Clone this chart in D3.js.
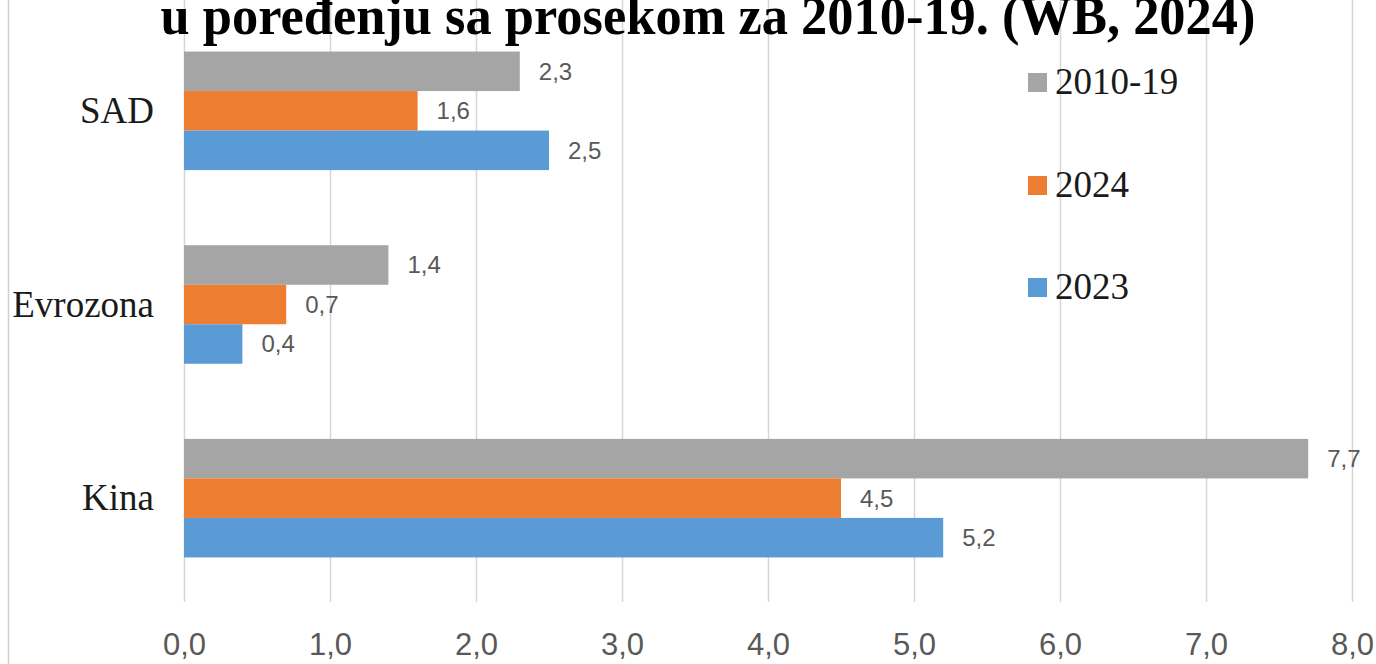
<!DOCTYPE html>
<html>
<head>
<meta charset="utf-8">
<script src="https://cdn.jsdelivr.net/npm/d3@7"></script>
<style>
  html, body { margin: 0; padding: 0; background: #fff; }
  svg { display: block; }
</style>
</head>
<body>
<div id="chart"></div>
<script>
// podaci
const categories = ['SAD', 'Evrozona', 'Kina'];
const seriesNames = ['2010-19', '2024', '2023'];
const values2010_19 = [2.3, 1.4, 7.7];
const values2024 = [1.6, 0.7, 4.5];
const values2023 = [2.5, 0.4, 5.2];
const xTicks = [0, 1, 2, 3, 4, 5, 6, 7, 8];
const title = 'u poređenju sa prosekom za 2010-19. (WB, 2024)';

const seriesValues = [values2010_19, values2024, values2023];
const colors = ['#a5a5a5', '#ed7d31', '#5b9bd5'];

const W = 1376, H = 664;
const svg = d3.select('#chart').append('svg')
    .attr('width', W)
    .attr('height', H);

// skale
const x = d3.scaleLinear().domain([0, 8]).range([184, 1352]);
const y0 = d3.scaleBand().domain(categories).range([14, 595])
    .paddingInner(0.388).paddingOuter(0.194);
const y1 = d3.scaleBand().domain(seriesNames).range([0, y0.bandwidth()]);

// okvir levo
svg.append('line')
    .attr('x1', 8.5).attr('x2', 8.5)
    .attr('y1', 0).attr('y2', H)
    .attr('stroke', '#d0d0d0').attr('stroke-width', 1.5);

// mreža
svg.selectAll('.grid')
    .data(xTicks)
    .enter()
    .append('line')
    .attr('class', 'grid')
    .attr('x1', d => Math.round(x(d)) + 0.5)
    .attr('x2', d => Math.round(x(d)) + 0.5)
    .attr('y1', 0)
    .attr('y2', 602)
    .attr('stroke', '#d6d6d6')
    .attr('stroke-width', 1.5);

// stubići
const rows = [];
categories.forEach((c, i) => {
    seriesNames.forEach((s, j) => {
        rows.push({ cat: c, series: s, value: seriesValues[j][i], color: colors[j] });
    });
});

svg.selectAll('.bar')
    .data(rows)
    .enter()
    .append('rect')
    .attr('class', 'bar')
    .attr('x', x(0))
    .attr('y', d => y0(d.cat) + y1(d.series))
    .attr('width', d => x(d.value) - x(0))
    .attr('height', y1.bandwidth())
    .attr('fill', d => d.color);

// vrednosti
svg.selectAll('.val')
    .data(rows)
    .enter()
    .append('text')
    .attr('class', 'val')
    .attr('x', d => x(d.value) + 19)
    .attr('y', d => y0(d.cat) + y1(d.series) + y1.bandwidth() / 2)
    .attr('dy', '0.35em')
    .attr('fill', '#595959')
    .style('font-family', '"Liberation Sans", sans-serif')
    .style('font-size', '24px')
    .text(d => d.value.toFixed(1).replace('.', ','));

// kategorije
svg.selectAll('.cat')
    .data(categories)
    .enter()
    .append('text')
    .attr('class', 'cat')
    .attr('x', 154)
    .attr('y', d => y0(d) + y0.bandwidth() / 2)
    .attr('dy', '0.33em')
    .attr('text-anchor', 'end')
    .attr('fill', '#1a1a1a')
    .style('font-family', '"Liberation Serif", "DejaVu Serif", serif')
    .style('font-size', '37px')
    .text(d => d);

// osa x
const xAxis = d3.axisBottom(x)
    .tickValues(xTicks)
    .tickSize(0)
    .tickFormat(d => d3.format('.1f')(d).replace('.', ','));

const ax = svg.append('g')
    .attr('transform', 'translate(0,655)')
    .call(xAxis);
ax.select('.domain').remove();
ax.selectAll('text')
    .attr('y', 0)
    .attr('dy', 0)
    .attr('fill', '#595959')
    .style('font-family', '"Liberation Sans", sans-serif')
    .style('font-size', '31px');

// legenda
const legend = svg.append('g')
    .attr('transform', 'translate(1028,0)');
const legendY = [82, 185, 287];
seriesNames.forEach((s, j) => {
    legend.append('rect')
        .attr('x', 0)
        .attr('y', legendY[j] - 9)
        .attr('width', 19)
        .attr('height', 19)
        .attr('fill', colors[j]);
    legend.append('text')
        .attr('x', 27)
        .attr('y', legendY[j])
        .attr('dy', '0.33em')
        .attr('fill', '#1a1a1a')
        .style('font-family', '"Liberation Serif", "DejaVu Serif", serif')
        .style('font-size', '37px')
        .text(s);
});

// naslov
svg.append('text')
    .attr('x', 708)
    .attr('y', 34)
    .attr('text-anchor', 'middle')
    .attr('textLength', 1095)
    .attr('lengthAdjust', 'spacingAndGlyphs')
    .attr('fill', '#000')
    .style('font-family', '"Liberation Serif", "DejaVu Serif", serif')
    .style('font-weight', 'bold')
    .style('font-size', '54px')
    .text(title);
</script>
</body>
</html>
